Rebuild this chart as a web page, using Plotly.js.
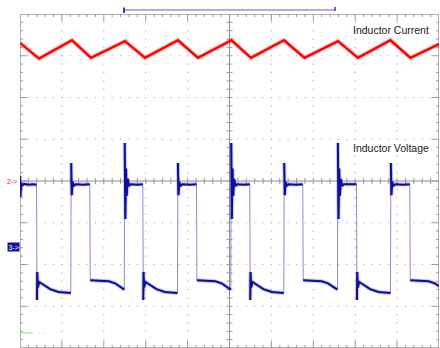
<!DOCTYPE html>
<html><head><meta charset="utf-8">
<script src="https://cdn.plot.ly/plotly-3.0.1.min.js"></script>
<style>html,body{margin:0;padding:0;background:#fff}#chart{width:440px;height:348px}</style>
</head><body><div id="chart"></div>
<script>
// Oscilloscope capture: time in divisions (0..10), amplitude in divisions (-4..4)
const currentTime  = [0.000, 0.453, 1.241, 1.695, 2.506, 2.983, 3.771, 4.248, 5.048, 5.513, 6.301, 6.790, 7.589, 8.067, 8.842, 9.320, 10.000];
const currentValue = [3.31, 2.93, 3.37, 2.95, 3.35, 2.95, 3.37, 2.95, 3.37, 2.95, 3.37, 2.95, 3.35, 2.95, 3.37, 2.95, 3.28];

const voltageTime = [
  0.000, 0.010, 0.030, 0.060, 0.100, 0.200, 0.300, 0.395,
  0.405, 0.412, 0.425, 0.460, 0.560, 0.720, 0.920, 1.212,
  1.222, 1.235, 1.255, 1.285, 1.330, 1.500, 1.666,
  1.676, 2.120, 2.270, 2.390, 2.489,
  2.499, 2.514, 2.530, 2.548, 2.570, 2.600, 2.640, 2.800, 2.931,
  2.942, 2.949, 2.962, 2.997, 3.097, 3.257, 3.457, 3.759,
  3.769, 3.782, 3.802, 3.832, 3.877, 4.050, 4.212,
  4.222, 4.660, 4.810, 4.930, 5.031,
  5.041, 5.056, 5.072, 5.090, 5.112, 5.142, 5.182, 5.350, 5.484,
  5.495, 5.502, 5.515, 5.550, 5.650, 5.810, 6.010, 6.296,
  6.306, 6.319, 6.339, 6.369, 6.414, 6.600, 6.749,
  6.759, 7.200, 7.350, 7.470, 7.577,
  7.587, 7.602, 7.618, 7.636, 7.658, 7.688, 7.728, 7.900, 8.031,
  8.042, 8.049, 8.062, 8.097, 8.197, 8.357, 8.557, 8.842,
  8.852, 8.865, 8.885, 8.915, 8.960, 9.150, 9.303,
  9.313, 9.750, 9.900, 10.000
];
const voltageValue = [
  0.12, -0.38, -0.04, -0.10, -0.07, -0.09, -0.08, -0.09,
  -2.85, -2.18, -2.55, -2.42, -2.49, -2.59, -2.66, -2.68,
  0.43, -0.34, -0.02, -0.11, -0.08, -0.09, -0.08,
  -2.38, -2.40, -2.45, -2.53, -2.60,
  0.91, -0.91, 0.30, -0.35, 0.05, -0.12, -0.08, -0.09, -0.08,
  -2.85, -2.18, -2.55, -2.42, -2.49, -2.59, -2.66, -2.68,
  0.43, -0.34, -0.02, -0.11, -0.08, -0.09, -0.08,
  -2.38, -2.40, -2.45, -2.53, -2.60,
  0.91, -0.91, 0.30, -0.35, 0.05, -0.12, -0.08, -0.09, -0.08,
  -2.85, -2.18, -2.55, -2.42, -2.49, -2.59, -2.66, -2.68,
  0.43, -0.34, -0.02, -0.11, -0.08, -0.09, -0.08,
  -2.38, -2.40, -2.45, -2.53, -2.60,
  0.91, -0.91, 0.30, -0.35, 0.05, -0.12, -0.08, -0.09, -0.08,
  -2.85, -2.18, -2.55, -2.42, -2.49, -2.59, -2.66, -2.68,
  0.43, -0.34, -0.02, -0.11, -0.08, -0.09, -0.08,
  -2.38, -2.40, -2.45, -2.52
];

const traceLabels = ["Inductor Current", "Inductor Voltage"];
const channelMarkers = ["2->", "3->"];

// ---- grid decoration ----
const pxX = 41.9, pxY = 41.75;
const gdx = [], gdy = [];
for (let g = 1; g <= 9; g++) { if (g === 5) continue; for (let k = 0; k <= 40; k++) { gdx.push(g); gdy.push(-4 + k * 0.2); } }
for (let g = -3; g <= 3; g++) { if (g === 0) continue; for (let k = 0; k <= 50; k++) { gdx.push(k * 0.2); gdy.push(g); } }

const tx = [], ty = [];
function seg(x0, y0, x1, y1) { tx.push(x0, x1, null); ty.push(y0, y1, null); }
for (let k = 1; k < 50; k++) {
  const x = k * 0.2, major = k % 5 === 0;
  const l = (major ? 7 : 3) / pxY;
  seg(x, 4, x, 4 - l);
  seg(x, -4, x, -4 + l);
  seg(x, -3 / pxY, x, 3 / pxY);
}
for (let k = 1; k < 40; k++) {
  const y = -4 + k * 0.2, major = k % 5 === 0;
  const l = (major ? 7 : 3) / pxX;
  seg(0, y, l, y);
  seg(10, y, 10 - l, y);
  seg(5 - 3 / pxX, y, 5 + 3 / pxX, y);
}

// dark segments of the voltage trace (break at fast edges crossing the mid level)
const mid = -1.3, dX = [], dY = [];
for (let i = 0; i < voltageTime.length; i++) {
  if (i > 0 && (voltageValue[i - 1] - mid) * (voltageValue[i] - mid) < 0) { dX.push(null); dY.push(null); }
  dX.push(voltageTime[i]); dY.push(voltageValue[i]);
}

const traces = [
  { x: gdx, y: gdy, mode: 'markers', type: 'scatter', hoverinfo: 'skip',
    marker: { symbol: 'square', size: 1.2, color: '#b4b4b4' } },
  { x: tx, y: ty, mode: 'lines', type: 'scatter', hoverinfo: 'skip',
    line: { color: '#9a9a9a', width: 1 } },
  { x: currentTime, y: currentValue, mode: 'lines', type: 'scatter', hoverinfo: 'skip',
    line: { color: 'rgba(255,60,60,0.30)', width: 4.5 } },
  { x: currentTime, y: currentValue, mode: 'lines', type: 'scatter', name: traceLabels[0],
    line: { color: '#ff0000', width: 2.4 } },
  { x: voltageTime, y: voltageValue, mode: 'lines', type: 'scatter', hoverinfo: 'skip',
    line: { color: '#8c8cdc', width: 1 } },
  { x: dX, y: dY, mode: 'lines', type: 'scatter', hoverinfo: 'skip',
    line: { color: 'rgba(90,90,210,0.35)', width: 4 } },
  { x: dX, y: dY, mode: 'lines', type: 'scatter', name: traceLabels[1],
    line: { color: '#0e0e98', width: 2 } }
];

const yp = px => 1 - (px - 14) / 334;
const layout = {
  width: 440, height: 348,
  margin: { l: 20, r: 1, t: 14, b: 0, pad: 0 },
  paper_bgcolor: '#fff', plot_bgcolor: '#fff',
  showlegend: false,
  xaxis: { range: [0, 10], visible: false, fixedrange: true },
  yaxis: { range: [-4, 4], visible: false, fixedrange: true },
  shapes: [
    { type: 'rect', xref: 'x', yref: 'y', x0: 0, x1: 10, y0: -4, y1: 4, line: { color: '#999', width: 1.5 }, layer: 'below' },
    { type: 'line', xref: 'x', yref: 'y', x0: 0, x1: 10, y0: 0, y1: 0, line: { color: '#8c8c8c', width: 1 }, layer: 'below' },
    { type: 'line', xref: 'x', yref: 'y', x0: 5, x1: 5, y0: -4, y1: 4, line: { color: '#8c8c8c', width: 1 }, layer: 'below' },
    { type: 'line', xref: 'x', yref: 'paper', x0: 2.482, x1: 7.518, y0: yp(10), y1: yp(10), line: { color: '#5a5ad0', width: 1.2 } },
    { type: 'line', xref: 'x', yref: 'paper', x0: 2.482, x1: 2.482, y0: yp(7.5), y1: yp(13), line: { color: '#3a3ac8', width: 2 } },
    { type: 'line', xref: 'x', yref: 'paper', x0: 7.518, x1: 7.518, y0: yp(7), y1: yp(11), line: { color: '#3a3ac8', width: 1.5 } },
    { type: 'line', xref: 'x', yref: 'y', x0: 0.03, x1: 0.28, y0: -3.64, y1: -3.64, line: { color: '#a8f0a8', width: 1.5 } },
    { type: 'line', xref: 'x', yref: 'y', x0: 0.30, x1: 0.66, y0: -3.64, y1: -3.64, line: { color: '#a8f0a8', width: 1.5, dash: '1px,5px' } }
  ],
  annotations: [
    { xref: 'paper', yref: 'paper', x: 0.791, y: yp(30), xanchor: 'left', yanchor: 'middle', showarrow: false,
      text: traceLabels[0], font: { family: 'Liberation Sans, Arial, sans-serif', size: 10.5, color: '#222' } },
    { xref: 'paper', yref: 'paper', x: 0.791, y: yp(147.5), xanchor: 'left', yanchor: 'middle', showarrow: false,
      text: traceLabels[1], font: { family: 'Liberation Sans, Arial, sans-serif', size: 10.5, color: '#222' } },
    { xref: 'paper', yref: 'y', x: -0.018, y: 0, xanchor: 'center', yanchor: 'middle', showarrow: false,
      text: channelMarkers[0], font: { family: 'Liberation Sans, Arial, sans-serif', size: 7, color: '#ff2020' } },
    { xref: 'paper', yref: 'y', x: -0.0155, y: -1.57, xanchor: 'center', yanchor: 'middle', showarrow: false,
      text: channelMarkers[1], bgcolor: '#10109a', borderpad: 0.5,
      font: { family: 'Liberation Sans, Arial, sans-serif', size: 7, color: '#fff' } }
  ]
};

Plotly.newPlot('chart', traces, layout, { displayModeBar: false, staticPlot: true });
</script>
</body></html>
